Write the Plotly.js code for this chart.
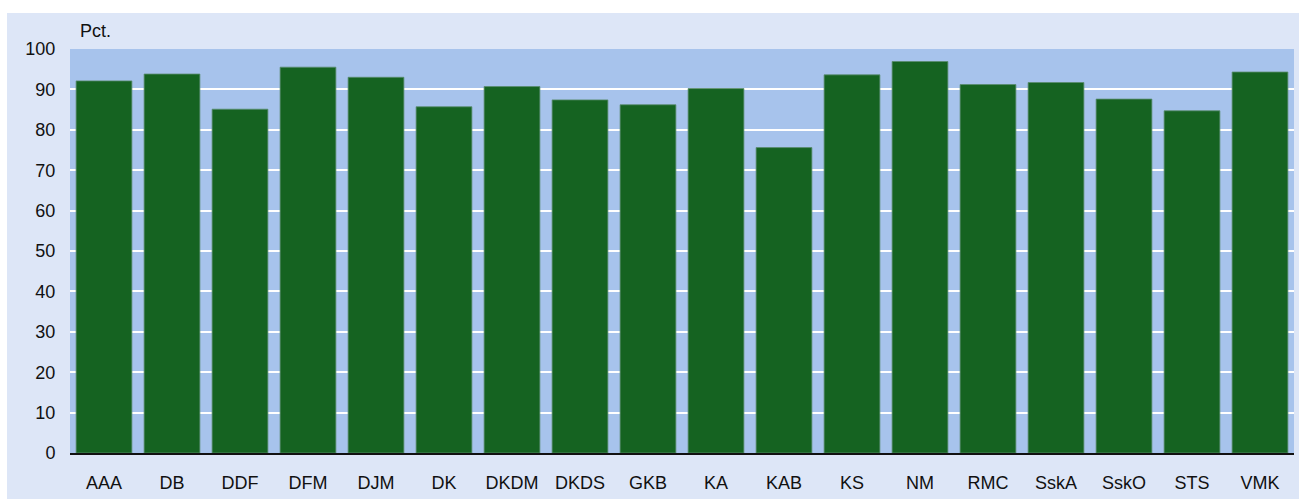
<!DOCTYPE html>
<html>
<head>
<meta charset="utf-8">
<script src="https://cdn.plot.ly/plotly-3.0.1.min.js"></script>
<style>
html,body{margin:0;padding:0;background:#ffffff;width:1299px;height:499px;overflow:hidden;}
#chart{position:absolute;left:7px;top:13px;width:1292px;height:486px;}
</style>
</head>
<body>
<div id="chart"></div>
<script>
const categories = ["AAA","DB","DDF","DFM","DJM","DK","DKDM","DKDS","GKB","KA","KAB","KS","NM","RMC","SskA","SskO","STS","VMK"];
const values = [92.1, 93.8, 85.1, 95.5, 93.0, 85.7, 90.7, 87.4, 86.2, 90.2, 75.6, 93.6, 96.9, 91.2, 91.7, 87.6, 84.7, 94.3];
const yTicks = [0,10,20,30,40,50,60,70,80,90,100];
const unitLabel = "Pct.";

const fontFamily = "'Liberation Sans', Arial, sans-serif";

const trace = {
  type: "bar",
  x: categories,
  y: values,
  marker: {color: "#156321", line: {color: "rgba(90,140,110,0.8)", width: 1}},
  hoverinfo: "x+y"
};

const layout = {
  width: 1292,
  height: 486,
  margin: {l: 63, r: 5, t: 36, b: 46},
  paper_bgcolor: "#dde6f7",
  plot_bgcolor: "#a7c3ec",
  bargap: 0.18,
  showlegend: false,
  font: {family: fontFamily, size: 18, color: "#111111"},
  xaxis: {
    type: "category",
    showgrid: false,
    zeroline: false,
    showline: true,
    linecolor: "#111111",
    linewidth: 2,
    ticks: "outside",
    ticklen: 12,
    tickcolor: "rgba(0,0,0,0)",
    tickfont: {family: fontFamily, size: 18, color: "#111111"}
  },
  yaxis: {
    range: [0, 100],
    tickvals: yTicks,
    ticktext: yTicks.map(String),
    showgrid: true,
    gridcolor: "#ffffff",
    gridwidth: 2,
    zeroline: false,
    showline: false,
    ticks: "outside",
    ticklen: 10,
    tickcolor: "rgba(0,0,0,0)",
    tickfont: {family: fontFamily, size: 18, color: "#111111"},
    fixedrange: true
  },
  annotations: [{
    text: unitLabel,
    xref: "paper", yref: "paper",
    x: 0, y: 1,
    xanchor: "left", yanchor: "bottom",
    xshift: 8, yshift: 6,
    showarrow: false,
    font: {family: fontFamily, size: 18, color: "#111111"}
  }]
};

Plotly.newPlot("chart", [trace], layout, {displayModeBar: false, staticPlot: true});
</script>
</body>
</html>
